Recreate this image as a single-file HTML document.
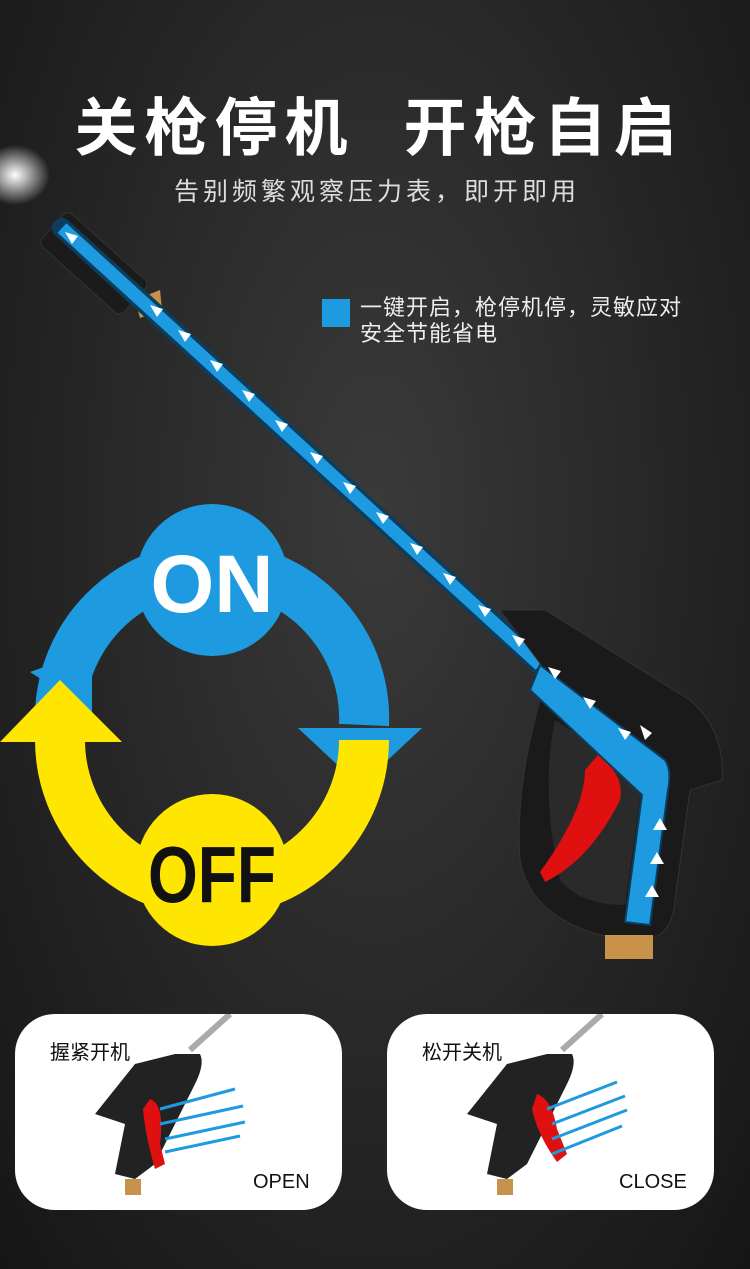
<!DOCTYPE html>
<html><head><meta charset="utf-8"><style>
html,body{margin:0;padding:0;}
body{width:750px;height:1269px;overflow:hidden;position:relative;font-family:"Liberation Sans","Noto Sans CJK SC",sans-serif;
background:radial-gradient(ellipse at 50% 40%,#3a3a3a 0%,#262626 55%,#161616 100%);}
.t{position:absolute;left:0;width:750px;text-align:center;color:#fff;}
.card{position:absolute;background:#fff;border-radius:40px;width:327px;height:196px;top:1014px;overflow:hidden;}
.lab{position:absolute;font-size:20px;color:#111;}
</style></head><body>
<div class="t" style="top:78px;font-size:63px;font-weight:bold;letter-spacing:7px;left:4px;">关枪停机&nbsp;&nbsp;开枪自启</div>
<div class="t" style="top:172px;font-size:25px;color:#ddd;letter-spacing:4px;left:2px;">告别频繁观察压力表，即开即用</div>
<div style="position:absolute;left:322px;top:299px;width:28px;height:28px;background:#1e9be0;"></div>
<div style="position:absolute;left:360px;top:295px;font-size:22px;color:#eee;line-height:26px;letter-spacing:1px;">一键开启，枪停机停，灵敏应对<br>安全节能省电</div>

<svg width="750" height="1269" style="position:absolute;left:0;top:0" xmlns="http://www.w3.org/2000/svg">
<defs>
<radialGradient id="spray"><stop offset="0" stop-color="#fff"/><stop offset="1" stop-color="#fff" stop-opacity="0"/></radialGradient>
</defs>
<ellipse cx="15" cy="175" rx="35" ry="30" fill="url(#spray)"/>
<g transform="rotate(42 90 260)">
<rect x="40" y="238" width="110" height="44" rx="6" fill="#1b1b1b" stroke="#333"/>
</g>
<polygon points="135,300 160,290 162,310 140,318" fill="#c8924a"/>
<line x1="62" y1="228" x2="540" y2="665" stroke="#0d3d5c" stroke-width="20" stroke-linecap="round"/>
<line x1="62" y1="228" x2="540" y2="665" stroke="#1e9be0" stroke-width="13"/>
<path d="M500,610 L545,610 L690,700 Q725,730 722,780 L690,790 L675,900 Q672,940 640,940 L600,935 Q530,915 520,860 Q515,790 540,700 L560,690 Z" fill="#1a1a1a" stroke="#333"/>
<path d="M555,720 Q540,790 560,880 Q580,905 625,905 L640,800 L650,780 Z" fill="#2a2a2a"/>
<path d="M598,755 Q625,775 620,800 Q590,860 545,882 L540,872 Q585,810 585,770 Z" fill="#e01010"/>
<path d="M540,665 L665,760 Q672,770 668,790 L650,925 L625,922 L642,795 L530,690 Z" fill="#1e9be0" stroke="#0d3d5c" stroke-width="2"/>
<rect x="605" y="935" width="48" height="24" fill="#c8924a"/>
<g fill="#fff">
<polygon points="65,232 78,236 72,244"/><polygon points="150,305 163,309 157,317"/>
<polygon points="178,330 191,334 185,342"/><polygon points="210,360 223,364 217,372"/>
<polygon points="242,390 255,394 249,402"/><polygon points="275,420 288,424 282,432"/>
<polygon points="310,452 323,456 317,464"/><polygon points="343,482 356,486 350,494"/>
<polygon points="376,512 389,516 383,524"/><polygon points="410,543 423,547 417,555"/>
<polygon points="443,573 456,577 450,585"/><polygon points="478,605 491,609 485,617"/>
<polygon points="512,635 525,639 519,647"/><polygon points="548,667 561,671 555,679"/>
<polygon points="583,697 596,701 590,709"/><polygon points="618,728 631,732 625,740"/>
<polygon points="660,818 667,830 653,830"/><polygon points="657,852 664,864 650,864"/>
<polygon points="652,885 659,897 645,897"/><polygon points="640,725 652,733 645,740"/>
</g>
<path d="M60,712 A152,152 0 0 1 364,725" fill="none" stroke="#1e9be0" stroke-width="50"/>
<polygon points="30,672 92,650 92,712" fill="#1e9be0"/>
<polygon points="298,728 422,728 360,786" fill="#1e9be0"/>
<path d="M364,740 A152,152 0 0 1 60,740" fill="none" stroke="#ffe600" stroke-width="50"/>
<polygon points="0,742 122,742 60,680" fill="#ffe600"/>
<circle cx="212" cy="580" r="76" fill="#1e9be0"/>
<text x="212" y="612" text-anchor="middle" font-family="Liberation Sans" font-weight="bold" font-size="82" fill="#fff">ON</text>
<circle cx="212" cy="870" r="76" fill="#ffe600"/>
<text x="212" y="902" text-anchor="middle" font-family="Liberation Sans" font-weight="bold" font-size="80" fill="#111" textLength="128" lengthAdjust="spacingAndGlyphs">OFF</text>
</svg>

<div class="card" style="left:15px;">
<div class="lab" style="left:35px;top:22px;">握紧开机</div>
<div class="lab" style="left:238px;top:157px;">OPEN</div>
<svg width="327" height="196" style="position:absolute;left:0;top:0">
<line x1="175" y1="36" x2="215" y2="0" stroke="#aaa" stroke-width="6"/>
<path d="M160,40 L185,40 Q190,50 180,70 L140,150 L120,165 L100,160 L110,110 L80,100 L120,50 Z" fill="#222"/>
<path d="M135,85 Q150,90 145,130 L150,150 L140,155 Q130,120 128,95 Z" fill="#e01010"/>
<rect x="110" y="165" width="16" height="16" fill="#c8924a"/>
<g stroke="#1e9be0" stroke-width="3">
<line x1="145" y1="95" x2="220" y2="75"/><line x1="145" y1="110" x2="228" y2="92"/>
<line x1="150" y1="125" x2="230" y2="108"/><line x1="150" y1="138" x2="225" y2="122"/>
</g>
</svg>
</div>
<div class="card" style="left:387px;">
<div class="lab" style="left:35px;top:22px;">松开关机</div>
<div class="lab" style="left:232px;top:157px;">CLOSE</div>
<svg width="327" height="196" style="position:absolute;left:0;top:0">
<line x1="175" y1="36" x2="215" y2="0" stroke="#aaa" stroke-width="6"/>
<path d="M160,40 L185,40 Q190,50 180,70 L140,150 L120,165 L100,160 L110,110 L80,100 L120,50 Z" fill="#222"/>
<path d="M150,80 Q165,85 170,115 L180,140 L170,148 Q150,120 145,95 Z" fill="#e01010"/>
<rect x="110" y="165" width="16" height="16" fill="#c8924a"/>
<g stroke="#1e9be0" stroke-width="3">
<line x1="160" y1="95" x2="230" y2="68"/><line x1="165" y1="110" x2="238" y2="82"/>
<line x1="165" y1="125" x2="240" y2="96"/><line x1="165" y1="140" x2="235" y2="112"/>
</g>
</svg>
</div>
</body></html>
